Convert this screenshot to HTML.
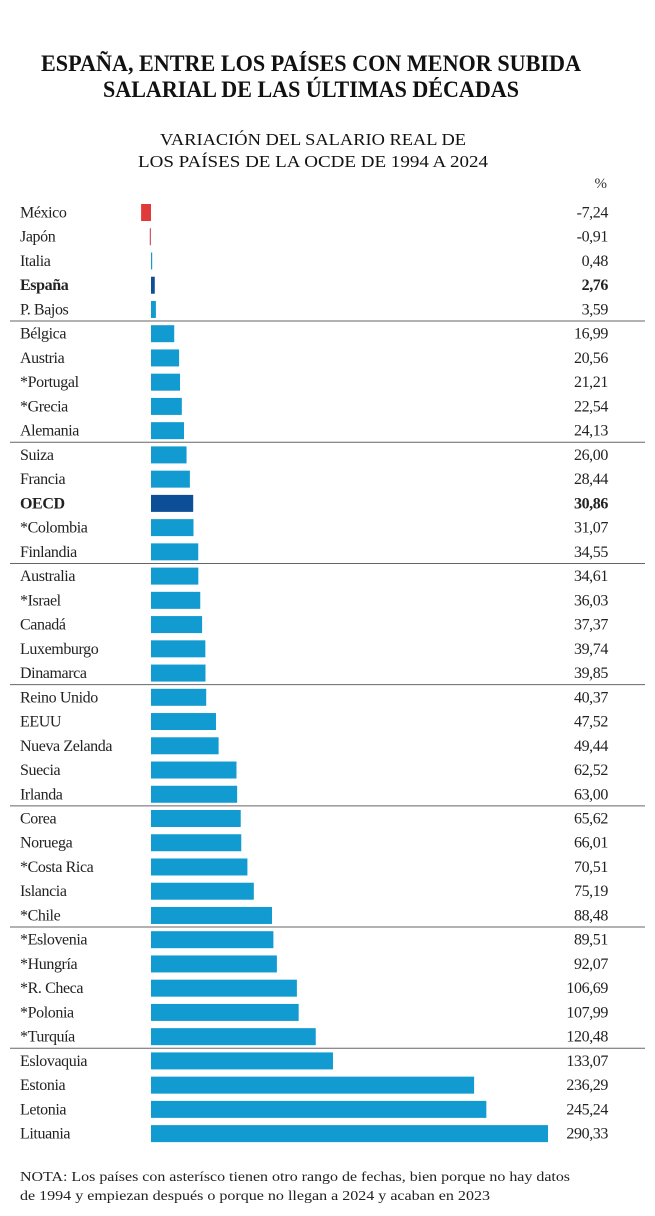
<!DOCTYPE html>
<html><head><meta charset="utf-8"><style>
html,body{margin:0;padding:0;background:#fff;}
svg{display:block;font-family:"Liberation Serif",serif;}
</style></head><body>
<svg id="chart" width="655" height="1216" viewBox="0 0 655 1216">
<text x="311" y="71" text-anchor="middle" font-size="23" font-weight="bold" textLength="540" lengthAdjust="spacingAndGlyphs" fill="#111">ESPAÑA, ENTRE LOS PAÍSES CON MENOR SUBIDA</text>
<text x="311" y="97" text-anchor="middle" font-size="23" font-weight="bold" textLength="416" lengthAdjust="spacingAndGlyphs" fill="#111">SALARIAL DE LAS ÚLTIMAS DÉCADAS</text>
<text x="313" y="145" text-anchor="middle" font-size="17" textLength="306" lengthAdjust="spacingAndGlyphs" fill="#111">VARIACIÓN DEL SALARIO REAL DE</text>
<text x="313" y="167" text-anchor="middle" font-size="17" textLength="350" lengthAdjust="spacingAndGlyphs" fill="#111">LOS PAÍSES DE LA OCDE DE 1994 A 2024</text>
<text x="607" y="188" text-anchor="end" font-size="15" fill="#333">%</text>
<g id="rows"></g>
<text x="20" y="1181" font-size="14" fill="#222" textLength="550" lengthAdjust="spacingAndGlyphs">NOTA: Los países con asterísco tienen otro rango de fechas, bien porque no hay datos</text>
<text x="20" y="1200" font-size="14" fill="#222" textLength="470" lengthAdjust="spacingAndGlyphs">de 1994 y empiezan después o porque no llegan a 2024 y acaban en 2023</text>
</svg>
<script>
const countries = ["México","Japón","Italia","España","P. Bajos","Bélgica","Austria","*Portugal","*Grecia","Alemania","Suiza","Francia","OECD","*Colombia","Finlandia","Australia","*Israel","Canadá","Luxemburgo","Dinamarca","Reino Unido","EEUU","Nueva Zelanda","Suecia","Irlanda","Corea","Noruega","*Costa Rica","Islancia","*Chile","*Eslovenia","*Hungría","*R. Checa","*Polonia","*Turquía","Eslovaquia","Estonia","Letonia","Lituania"];
const values = [-7.24,-0.91,0.48,2.76,3.59,16.99,20.56,21.21,22.54,24.13,26.00,28.44,30.86,31.07,34.55,34.61,36.03,37.37,39.74,39.85,40.37,47.52,49.44,62.52,63.00,65.62,66.01,70.51,75.19,88.48,89.51,92.07,106.69,107.99,120.48,133.07,236.29,245.24,290.33];
const highlighted = ["España","OECD"];
const NS="http://www.w3.org/2000/svg";
const g=document.getElementById('rows');
const x0=151, xScale=v=>x0+v*(397/290.33);
const rowY=i=>212+i*24.24;
function fmt(v){return v.toFixed(2).replace('.',',');}
countries.forEach((c,i)=>{
  const y=rowY(i), v=values[i], hl=highlighted.includes(c);
  const t=document.createElementNS(NS,'text');
  t.setAttribute('x',20);t.setAttribute('y',y+5.5);t.setAttribute('font-size','16');
  t.setAttribute('letter-spacing','-0.4');t.setAttribute('fill','#222');
  if(hl)t.setAttribute('font-weight','bold');
  t.textContent=c;
  
  
  g.appendChild(t);
  const r=document.createElementNS(NS,'rect');
  let xa=xScale(Math.min(0,v)), xb=xScale(Math.max(0,v));
  let w=Math.max(xb-xa,1.2);
  let col=v<0?'#e03a3a':(hl?'#0d4f96':'#129bd0');
  if(v<0&&v>-2){col='#d05a6a';}
  r.setAttribute('x',xa);r.setAttribute('y',y-8);r.setAttribute('width',w);r.setAttribute('height',17);
  r.setAttribute('fill',col);
  
  
  g.appendChild(r);
  const vt=document.createElementNS(NS,'text');
  vt.setAttribute('x',608);vt.setAttribute('y',y+5.5);vt.setAttribute('text-anchor','end');
  vt.setAttribute('font-size','16');vt.setAttribute('letter-spacing','-0.4');vt.setAttribute('fill','#222');
  if(hl)vt.setAttribute('font-weight','bold');
  vt.textContent=fmt(v);
  
  
  g.appendChild(vt);
  if(i%5===4 && i<countries.length-1){
    const l=document.createElementNS(NS,'line');
    const ly=y+12.1;
    l.setAttribute('x1',10);l.setAttribute('x2',645);l.setAttribute('y1',ly);l.setAttribute('y2',ly);
    l.setAttribute('stroke','#666');l.setAttribute('stroke-width','1');
    
    
    g.appendChild(l);
  }
});
</script>
</body></html>
